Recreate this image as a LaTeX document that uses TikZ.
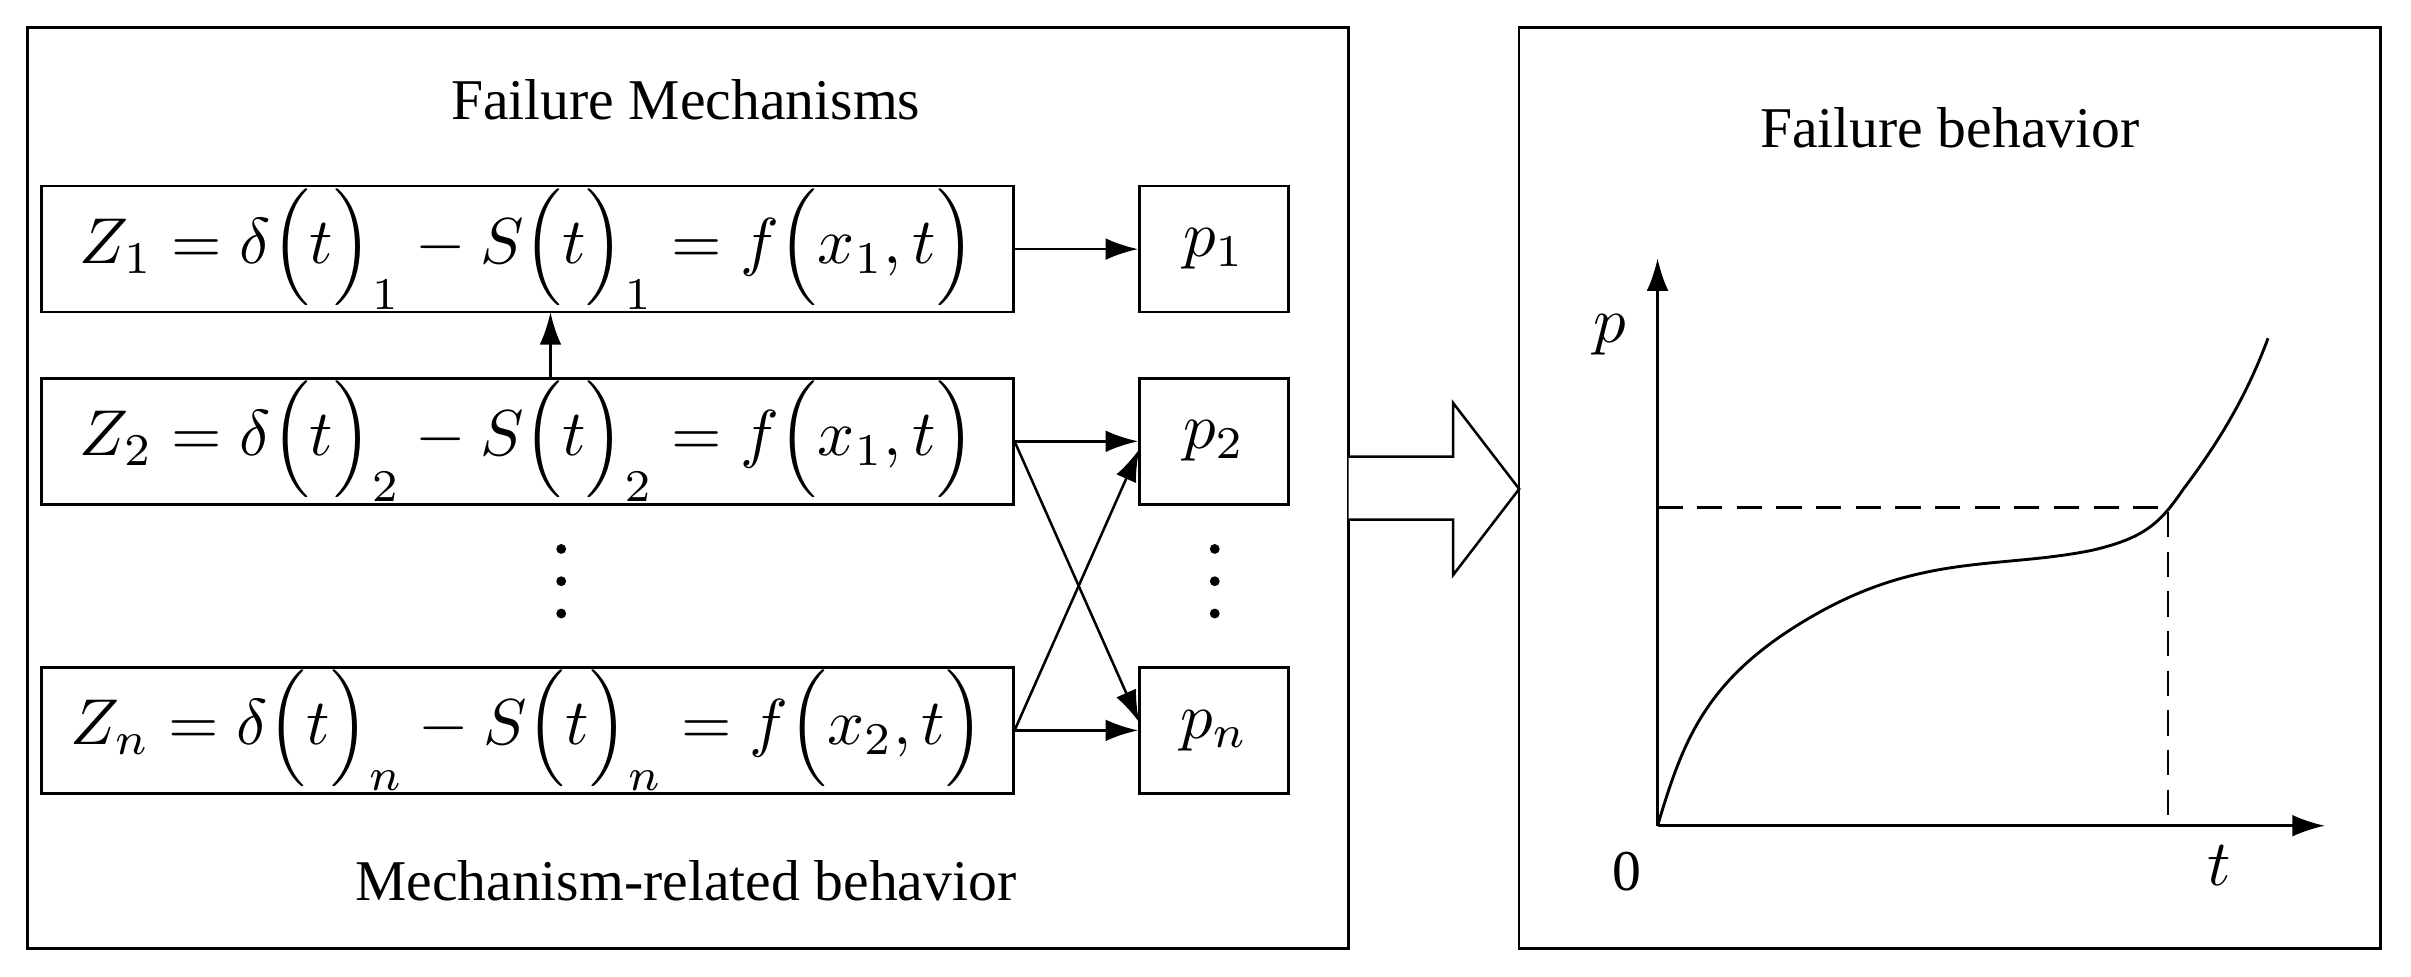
\documentclass[tikz,border=0pt]{standalone}
\usepackage{fontspec}
\setmainfont{Liberation Serif}
\usetikzlibrary{arrows.meta}
\begin{document}
\begin{tikzpicture}[x=0.03cm,y=-0.03cm,
  box/.style={draw,line width=1.4pt,inner sep=0pt},
  arr/.style={line width=1.4pt,-{Latex[length=18pt,width=12pt]}},
  lbl/.style={font=\fontsize{32}{36}\selectfont}]
\newcommand{\eqn}[1]{\scalebox{3.6}{$\displaystyle #1$}}
\useasboundingbox (0,0) rectangle (1568,635);
\node[box,minimum width=859*0.03cm,minimum height=599*0.03cm] (L) at (447.5,317.5) {};
\node[box,minimum width=560*0.03cm,minimum height=599*0.03cm] (R) at (1268,317.5) {};
\node[lbl] (t1) at (446,65) {Failure Mechanisms};
\node[lbl] (t2) at (446,573) {Mechanism-related behavior};
\node[lbl] (t3) at (1268,83) {Failure behavior};
\tikzset{zb/.style={box,minimum width=632*0.03cm,minimum height=82*0.03cm},
         pb/.style={box,minimum width=97*0.03cm,minimum height=82*0.03cm}}
\node[zb] (Z1) at (343,162) {\eqn{Z_1=\delta\Big(t\Big)_1-S\Big(t\Big)_1=f\Big(x_1,t\Big)}};
\node[zb] (Z2) at (343,287) {\eqn{Z_2=\delta\Big(t\Big)_2-S\Big(t\Big)_2=f\Big(x_1,t\Big)}};
\node[zb] (Zn) at (343,475) {\eqn{Z_n=\delta\Big(t\Big)_n-S\Big(t\Big)_n=f\Big(x_2,t\Big)}};
\node[pb] (p1) at (789.5,162) {\eqn{p_1}};
\node[pb] (p2) at (789.5,287) {\eqn{p_2}};
\node[pb] (pn) at (789.5,475) {\eqn{p_n}};
\foreach \x in {365,790} \foreach \y in {357,378,399} \fill (\x,\y) circle (3.2);
\draw[arr] (358,246) -- (358,203);
\draw[arr] (Z1.east) -- (p1.west);
\draw[arr] (Z2.east) -- (p2.west);
\draw[arr] (Zn.east) -- (pn.west);
\draw[arr] (Z2.east) -- (741,470);
\draw[arr] (Zn.east) -- (741,292);
\draw[line width=1.4pt,fill=white] (877,297) -- (945,297) -- (945,262) -- (988,318) -- (945,374) -- (945,338) -- (877,338);
\coordinate (O) at (1078,537);
\draw[arr] (O) -- (1078,168);
\draw[arr] (O) -- (1512,537);
\node (p) at (1047,218) {\eqn{p}};
\node[lbl] (zero) at (1058,567) {0};
\node (tt) at (1443,563) {\eqn{t}};
\draw[line width=1.4pt,dash pattern=on 14pt off 8pt] (1078,330) -- (1410,330) -- (1410,537);
\draw[line width=1.6pt] (O) .. controls (1095,480) and (1110,440) .. (1180,400)
  .. controls (1250,360) and (1300,370) .. (1360,358)
  .. controls (1395,350) and (1405,340) .. (1420,318)
  .. controls (1445,285) and (1462,255) .. (1475,220);
\end{tikzpicture}
\end{document}
